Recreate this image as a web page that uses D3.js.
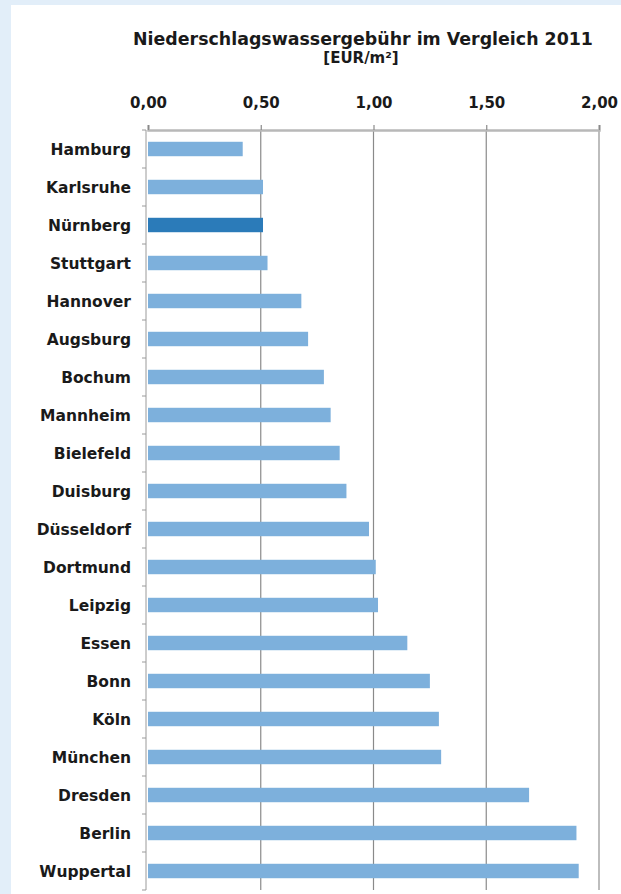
<!DOCTYPE html>
<html lang="de">
<head>
  <meta charset="UTF-8">
  <title>Niederschlagswassergebühr im Vergleich 2011</title>
  <style>
    body {
      margin: 0;
      padding: 0;
      background-color: #e2eef9;
      font-family: "DejaVu Sans", Arial, sans-serif;
    }

    #chart {
      position: absolute;
      left: 11px;
      top: 5px;
      width: 610px;
      height: 889px;
      background-color: white;
    }

    svg {
      position: absolute;
      left: 0;
      top: 0;
    }
  </style>
</head>
<body>

  <div id="chart"></div>

  <script src="https://d3js.org/d3.v7.min.js"></script>
  <script>
    // Städte, von oben nach unten
    const cities = [
      'Hamburg', 'Karlsruhe', 'Nürnberg', 'Stuttgart', 'Hannover',
      'Augsburg', 'Bochum', 'Mannheim', 'Bielefeld', 'Duisburg',
      'Düsseldorf', 'Dortmund', 'Leipzig', 'Essen', 'Bonn',
      'Köln', 'München', 'Dresden', 'Berlin', 'Wuppertal'
    ];

    // Gebühr in EUR/m²
    const fees = [
      0.42, 0.51, 0.51, 0.53, 0.68,
      0.71, 0.78, 0.81, 0.85, 0.88,
      0.98, 1.01, 1.02, 1.15, 1.25,
      1.29, 1.30, 1.69, 1.90, 1.91
    ];

    const highlight = 'Nürnberg';
    const xTicks = [0, 0.5, 1.0, 1.5, 2.0];

    const width = 621;
    const height = 894;
    const fontFam = '"DejaVu Sans", Arial, sans-serif';

    const svg = d3.select('body').append('svg')
      .attr('width', width)
      .attr('height', height);

    const x = d3.scaleLinear()
      .domain([0, 2])
      .range([148, 599]);

    const y = d3.scaleBand()
      .domain(cities)
      .range([130, 890])
      .paddingInner(0.62)
      .paddingOuter(0.31);

    const rows = cities.map((c, i) => ({ city: c, value: fees[i] }));

    // Titel
    svg.append('text')
      .attr('x', 363)
      .attr('y', 45)
      .attr('text-anchor', 'middle')
      .style('font-size', '17.4px')
      .style('font-weight', 'bold')
      .style('fill', '#1a1a1a')
      .text('Niederschlagswassergebühr im Vergleich 2011');

    svg.append('text')
      .attr('x', 361)
      .attr('y', 63)
      .attr('text-anchor', 'middle')
      .style('font-size', '15px')
      .style('font-weight', 'bold')
      .style('fill', '#1a1a1a')
      .text('[EUR/m²]');

    // Gitterlinien
    svg.selectAll('.grid')
      .data(xTicks.slice(1))
      .enter().append('line')
      .attr('class', 'grid')
      .attr('x1', d => x(d))
      .attr('x2', d => x(d))
      .attr('y1', 130)
      .attr('y2', 890)
      .style('stroke', d => d === 2 ? '#bdbdbd' : '#8a8a8a')
      .style('stroke-width', d => d === 2 ? 2 : 1.2);

    // obere Achse
    const xAxis = d3.axisTop(x)
      .tickValues(xTicks)
      .tickSize(5)
      .tickFormat(d => d3.format('.2f')(d).replace('.', ','));

    const gx = svg.append('g')
      .attr('transform', 'translate(0,130)')
      .call(xAxis);

    gx.select('.domain')
      .style('stroke', '#b8b8b8')
      .style('stroke-width', 2.5);
    gx.selectAll('.tick line')
      .style('stroke', '#8a8a8a')
      .style('stroke-width', 1.2);
    gx.selectAll('.tick text')
      .attr('y', -22)
      .attr('dy', 0)
      .style('font-family', fontFam)
      .style('font-size', '15px')
      .style('font-weight', 'bold')
      .style('fill', '#1a1a1a');

    // Balken
    svg.selectAll('.bar')
      .data(rows)
      .enter().append('rect')
      .attr('class', 'bar')
      .attr('x', x(0))
      .attr('y', d => y(d.city))
      .attr('width', d => x(d.value) - x(0))
      .attr('height', y.bandwidth())
      .style('fill', d => d.city === highlight ? '#2b7bb9' : '#7db0dc');

    // linke Achse mit Trennstrichen
    svg.append('line')
      .attr('x1', 146).attr('x2', 146)
      .attr('y1', 130).attr('y2', 890)
      .style('stroke', '#9a9a9a')
      .style('stroke-width', 1);

    const bounds = d3.range(cities.length + 1).map(i => 130 + i * y.step());
    svg.selectAll('.ytick')
      .data(bounds)
      .enter().append('line')
      .attr('class', 'ytick')
      .attr('x1', 142).attr('x2', 146)
      .attr('y1', d => d).attr('y2', d => d)
      .style('stroke', '#9a9a9a')
      .style('stroke-width', 1);

    // Beschriftung der Städte
    svg.selectAll('.label')
      .data(rows)
      .enter().append('text')
      .attr('class', 'label')
      .attr('x', 131)
      .attr('y', d => y(d.city) + y.bandwidth() / 2)
      .attr('dy', '0.38em')
      .attr('text-anchor', 'end')
      .style('font-size', '15.5px')
      .style('font-weight', 'bold')
      .style('fill', '#1a1a1a')
      .text(d => d.city);
  </script>
</body>
</html>
